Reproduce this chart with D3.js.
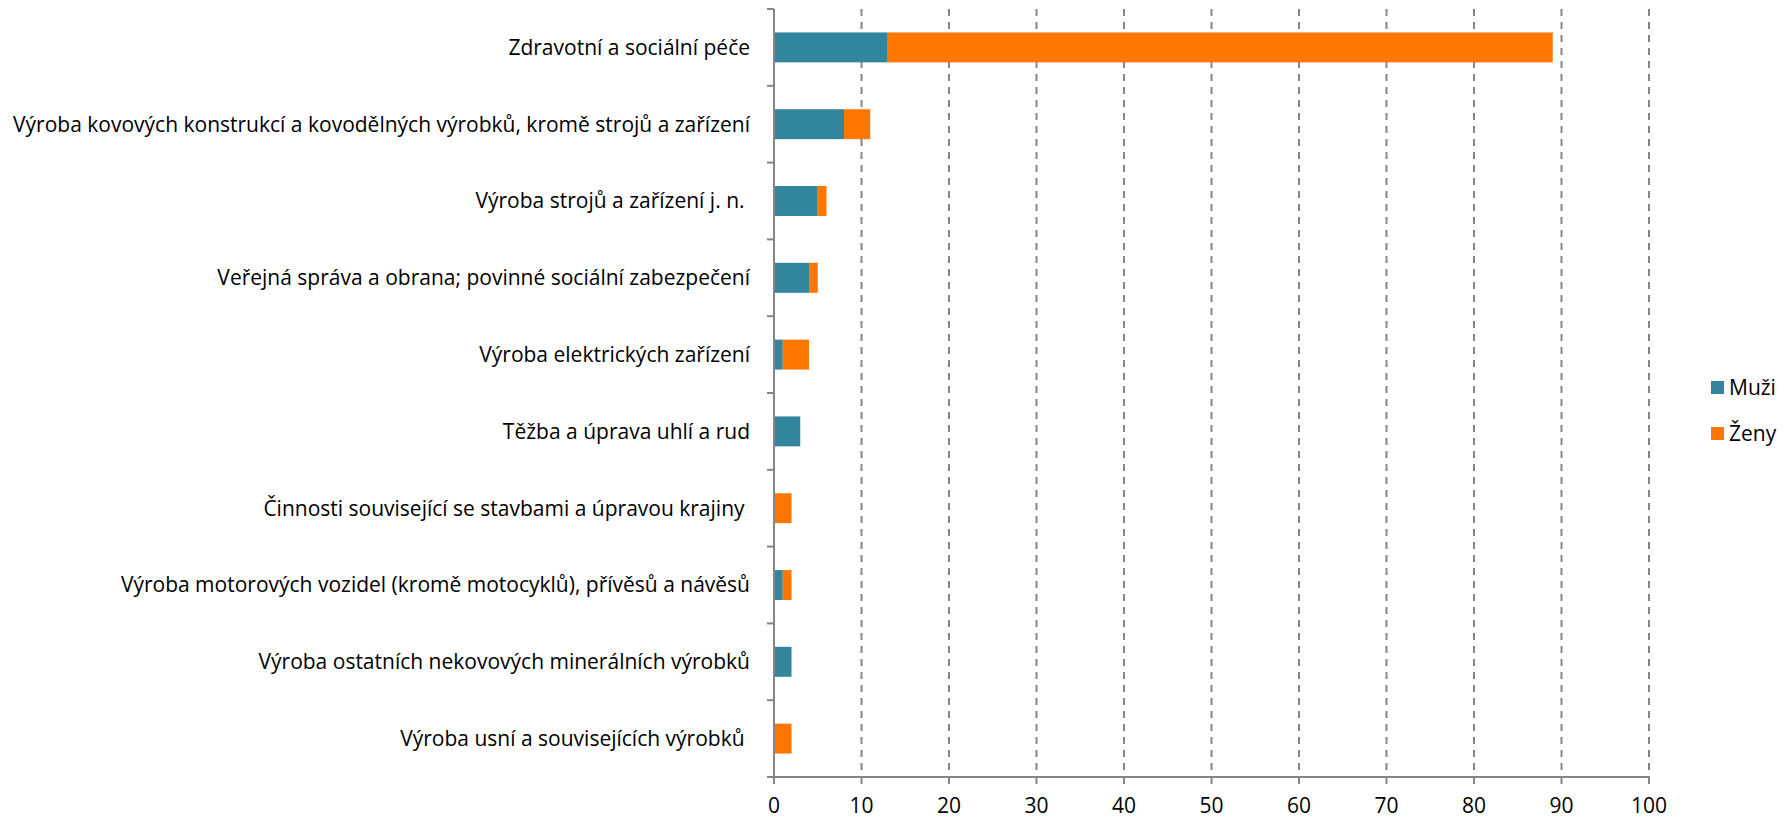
<!DOCTYPE html>
<html>
<head>
<meta charset="utf-8">
<script src="https://cdn.jsdelivr.net/npm/d3@7"></script>
<style>
  body { margin: 0; background: #fff; }
  svg text { font-family: "Open Sans", sans-serif; fill: #000; white-space: pre; }
</style>
</head>
<body>
<svg id="chart" width="1792" height="820"></svg>
<script>
// categories, top to bottom (some source labels carry a trailing space)
const categories = [
  "Zdravotní a sociální péče",
  "Výroba kovových konstrukcí a kovodělných výrobků, kromě strojů a zařízení",
  "Výroba strojů a zařízení j. n. ",
  "Veřejná správa a obrana; povinné sociální zabezpečení",
  "Výroba elektrických zařízení",
  "Těžba a úprava uhlí a rud",
  "Činnosti související se stavbami a úpravou krajiny ",
  "Výroba motorových vozidel (kromě motocyklů), přívěsů a návěsů",
  "Výroba ostatních nekovových minerálních výrobků",
  "Výroba usní a souvisejících výrobků "
]
const muzi = [13, 8, 5, 4, 1, 3, 0, 1, 2, 0]
const zeny = [76, 3, 1, 1, 3, 0, 2, 1, 0, 2]
const seriesNames = ["Muži", "Ženy"]
const colors = ["#31859c", "#ff7700"]
const xTicks = [0, 10, 20, 30, 40, 50, 60, 70, 80, 90, 100]

const margin = {left: 774, top: 9, right: 143, bottom: 43}
const width = 1792 - margin.left - margin.right
const height = 820 - margin.top - margin.bottom
const axisColor = "#868686"

const svg = d3.select("#chart")
const g = svg.append("g").attr("transform", `translate(${margin.left},${margin.top})`)

const x = d3.scaleLinear([0, 100], [0, width])
const y = d3.scaleBand(categories, [0, height]).paddingInner(0.61).paddingOuter(0.305)

// stacked data
const rows = categories.map((c, i) => ({cat: c, "Muži": muzi[i], "Ženy": zeny[i]}))
const stack = d3.stack().keys(seriesNames)(rows)

// dashed gridlines
g.selectAll(".grid")
  .data(xTicks.filter(d => d > 0))
  .enter().append("line")
  .attr("class", "grid")
  .attr("x1", d => x(d)).attr("x2", d => x(d))
  .attr("y1", 0).attr("y2", height)
  .attr("stroke", axisColor)
  .attr("stroke-width", 2)
  .attr("stroke-dasharray", "7,6")

// bars
g.selectAll(".series")
  .data(stack).enter()
  .append("g")
  .attr("fill", (d, i) => colors[i])
  .selectAll("rect")
  .data(d => d).enter()
  .append("rect")
  .attr("x", d => x(d[0]))
  .attr("y", d => y(d.data.cat))
  .attr("width", d => x(d[1]) - x(d[0]))
  .attr("height", y.bandwidth())

// y axis
const step = y.step()
const bounds = d3.range(categories.length + 1).map(i => i * step)
g.append("line")
  .attr("x1", 0).attr("x2", 0).attr("y1", 0).attr("y2", height)
  .attr("stroke", axisColor).attr("stroke-width", 2)
g.selectAll(".ytick")
  .data(bounds).enter().append("line")
  .attr("x1", -7).attr("x2", 0)
  .attr("y1", d => d).attr("y2", d => d)
  .attr("stroke", axisColor).attr("stroke-width", 2)

g.selectAll(".ylabel")
  .data(categories).enter().append("text")
  .attr("x", -24)
  .attr("y", d => y(d) + y.bandwidth() / 2)
  .attr("dy", "0.35em")
  .attr("text-anchor", "end")
  .attr("font-size", 21)
  .text(d => d)

// x axis
g.append("line")
  .attr("x1", -7).attr("x2", width).attr("y1", height).attr("y2", height)
  .attr("stroke", axisColor).attr("stroke-width", 2)
g.selectAll(".xtick")
  .data(xTicks).enter().append("line")
  .attr("x1", d => x(d)).attr("x2", d => x(d))
  .attr("y1", height).attr("y2", height + 7)
  .attr("stroke", axisColor).attr("stroke-width", 2)
g.selectAll(".xlabel")
  .data(xTicks).enter().append("text")
  .attr("x", d => x(d))
  .attr("y", height + 36)
  .attr("text-anchor", "middle")
  .attr("font-size", 21)
  .text(d => d)

// legend
const legend = svg.append("g").attr("transform", "translate(1711,381)")
seriesNames.forEach((s, i) => {
  legend.append("rect")
    .attr("x", 0).attr("y", i * 46)
    .attr("width", 13).attr("height", 13)
    .attr("fill", colors[i])
  legend.append("text")
    .attr("x", 18).attr("y", i * 46 + 7)
    .attr("dy", "0.35em")
    .attr("font-size", 21)
    .text(s)
})
</script>
</body>
</html>
